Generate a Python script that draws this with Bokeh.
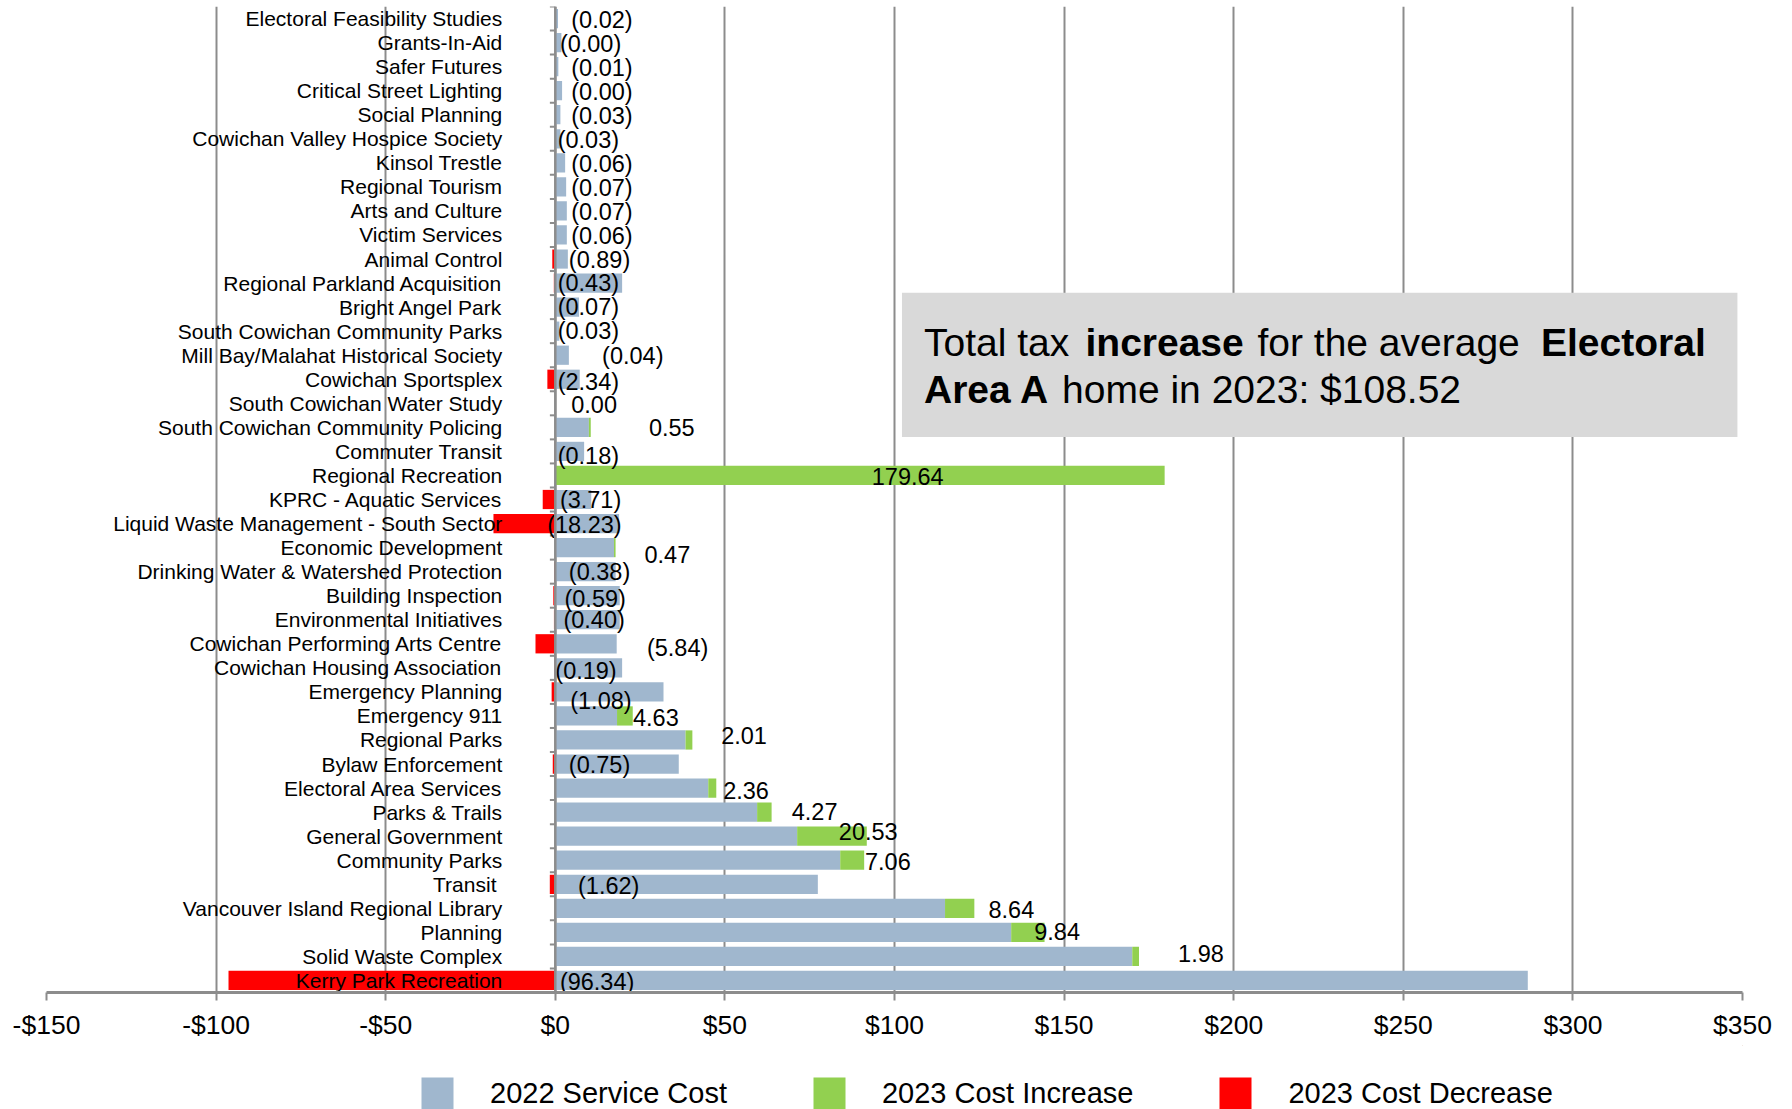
from bokeh.plotting import figure
from bokeh.layouts import column
from bokeh.models import (Range1d, FixedTicker, CustomJSTickFormatter, Span, BoxAnnotation,
                          Label, Legend, LegendItem, ColumnDataSource)
from bokeh.core.properties import value
from bokeh.embed import file_html
from bokeh.resources import INLINE

CATEGORIES = [
    "Electoral Feasibility Studies", "Grants-In-Aid", "Safer Futures", "Critical Street Lighting",
    "Social Planning", "Cowichan Valley Hospice Society", "Kinsol Trestle", "Regional Tourism",
    "Arts and Culture", "Victim Services", "Animal Control", "Regional Parkland Acquisition",
    "Bright Angel Park", "South Cowichan Community Parks", "Mill Bay/Malahat Historical Society",
    "Cowichan Sportsplex", "South Cowichan Water Study", "South Cowichan Community Policing",
    "Commuter Transit", "Regional Recreation", "KPRC - Aquatic Services",
    "Liquid Waste Management - South Sector", "Economic Development",
    "Drinking Water & Watershed Protection", "Building Inspection", "Environmental Initiatives",
    "Cowichan Performing Arts Centre", "Cowichan Housing Association", "Emergency Planning",
    "Emergency 911", "Regional Parks", "Bylaw Enforcement", "Electoral Area Services",
    "Parks & Trails", "General Government", "Community Parks", "Transit ",
    "Vancouver Island Regional Library", "Planning", "Solid Waste Complex", "Kerry Park Recreation",
]

COST_2022 = [
    0.8, 1.8, 0.9, 2.0, 1.5, 1.5, 2.9, 3.2, 3.4, 3.4, 3.7, 19.7, 7.0, 1.2, 4.0, 7.2, 0.0, 9.9,
    8.5, 0.0, 10.6, 18.8, 17.3, 17.8, 19.0, 19.0, 18.1, 19.7, 31.9, 18.2, 38.4, 36.4, 45.1,
    59.5, 71.3, 84.0, 77.4, 114.9, 134.4, 170.1, 286.7,
]

CHANGE_2023 = [
    -0.02, -0.003, -0.01, -0.003, -0.03, -0.03, -0.06, -0.07, -0.07, -0.06, -0.89, -0.43, -0.07,
    -0.03, -0.04, -2.34, 0.00, 0.55, -0.18, 179.64, -3.71, -18.23, 0.47, -0.38, -0.59, -0.40,
    -5.84, -0.19, -1.08, 4.63, 2.01, -0.75, 2.36, 4.27, 20.53, 7.06, -1.62, 8.64, 9.84, 1.98,
    -96.34,
]

X_TICKS = [-150, -100, -50, 0, 50, 100, 150, 200, 250, 300, 350]
SERIES_NAMES = ["2022 Service Cost", "2023 Cost Increase", "2023 Cost Decrease"]

# label placement (layout only): left edge of each value label in $, downward nudge in px
LABEL_X = [4.7, 1.35, 4.7, 4.7, 4.7, 0.7, 4.7, 4.7, 4.7, 4.7, 4.0, 0.7, 0.7, 0.7, 13.8, 0.7, 4.7,
           27.6, 0.7, 93.3, 1.35, -2.4, 26.3, 4.0, 2.7, 2.4, 27.0, 0.0, 4.4, 22.9, 48.9, 4.0, 49.5,
           69.7, 83.6, 91.3, 6.7, 127.7, 141.2, 183.6, 1.35]
LABEL_DY = [1, 1, 1, 1, 1, 1, 1, 1, 1, 1, 1, 0, 0, 0, 1, 3, 1, 0, 5, 1, 0, 1, 7, 0, 3, 0, 4, 3, 9,
            2, -4, 1, 2, -1, -5, 1, 2, 1, -1, -3, 2]

BLUE = "#A0B7CE"
GREEN = "#92D050"
RED = "#FF0000"
GRID = "#8C8C8C"
FONT = "Liberation Sans"

n = len(CATEGORIES)
ys = [n - i - 0.5 for i in range(n)]
inc_left = COST_2022
inc_right = [c + max(d, 0) for c, d in zip(COST_2022, CHANGE_2023)]
dec_left = [min(d, 0) for d in CHANGE_2023]
labels = [f"({abs(d):.2f})" if d < 0 else f"{d:.2f}" for d in CHANGE_2023]

src = ColumnDataSource(dict(
    y=ys, cat=CATEGORIES, cost=COST_2022, inc_left=inc_left, inc_right=inc_right,
    dec_left=dec_left, label=labels, lx=LABEL_X, ldy=LABEL_DY,
))

W = 1784
p = figure(width=W, height=1045, x_range=Range1d(-150, 350), y_range=Range1d(0, n),
           output_backend="svg", toolbar_location=None, y_axis_location=None,
           min_border_left=46, min_border_right=42, min_border_top=6, min_border_bottom=53)
p.outline_line_color = None
p.background_fill_color = "white"
p.ygrid.grid_line_color = None
p.xgrid.grid_line_color = GRID
p.xgrid.grid_line_width = 2
p.xgrid.ticker = FixedTicker(ticks=X_TICKS)

ax = p.xaxis[0]
ax.ticker = FixedTicker(ticks=X_TICKS)
ax.formatter = CustomJSTickFormatter(code="return (tick < 0 ? '-' : '') + '$' + Math.abs(tick);")
ax.axis_line_color = GRID
ax.axis_line_width = 3
ax.major_tick_line_color = GRID
ax.major_tick_line_width = 2
ax.major_tick_out = 8
ax.major_tick_in = 0
ax.minor_tick_line_color = None
ax.major_label_text_font = FONT
ax.major_label_text_font_size = "26.5px"
ax.major_label_text_color = "black"
ax.major_label_standoff = 9

h = 0.8
p.hbar(y="y", left=0, right="cost", height=h, source=src, fill_color=BLUE, line_color=None)
p.hbar(y="y", left="inc_left", right="inc_right", height=h, source=src,
       fill_color=GREEN, line_color=None)
p.hbar(y="y", left="dec_left", right=0, height=h, source=src, fill_color=RED, line_color=None)

# category axis at $0
p.add_layout(Span(location=0, dimension="height", line_color=GRID, line_width=2.5))
bounds = list(range(n + 1))
p.segment(x0=[-1.6] * len(bounds), x1=[0] * len(bounds), y0=bounds, y1=bounds,
          line_color=GRID, line_width=2)

p.text(x=0, y="y", text="cat", source=src, x_offset=-53, text_align="right",
       text_baseline="middle", text_font=value(FONT), text_font_size="21px", text_color="black")
p.text(x="lx", y="y", text="label", source=src, y_offset="ldy", text_align="left",
       text_baseline="middle", text_font=value(FONT), text_font_size="23.5px", text_color="black")

# summary box
p.add_layout(BoxAnnotation(left=102.2, right=348.5, bottom=23.1, top=29.1,
                           fill_color="#D9D9D9", fill_alpha=1, line_color=None, level="overlay"))
segments = [
    ("Total tax", "normal", 108.7, 27.04),
    ("increase", "bold", 156.3, 27.04),
    ("for the average", "normal", 207.0, 27.04),
    ("Electoral", "bold", 290.6, 27.04),
    ("Area A", "bold", 108.7, 25.08),
    ("home in 2023: $108.52", "normal", 149.4, 25.08),
]
for txt, style, x, y in segments:
    p.add_layout(Label(x=x, y=y, text=txt, text_font=FONT, text_font_size="39px",
                       text_font_style=style, text_baseline="middle", text_align="left",
                       text_color="black", level="overlay"))

# legend strip below the axis
lg = figure(width=W, height=64, x_range=Range1d(0, 1), y_range=Range1d(0, 1),
            output_backend="svg", toolbar_location=None, x_axis_location=None,
            y_axis_location=None, min_border=0)
lg.outline_line_color = None
lg.grid.visible = False
items = []
for name, col in zip(SERIES_NAMES, [BLUE, GREEN, RED]):
    r = lg.hbar(y=[50], left=[50], right=[51], height=1, fill_color=col, line_color=None)
    items.append(LegendItem(label=name, renderers=[r]))
legend = Legend(items=items, orientation="horizontal", location=(371, -4), glyph_width=40,
                glyph_height=40, label_standoff=33, spacing=82, padding=0, margin=0,
                border_line_color=None, background_fill_alpha=0, label_text_font=FONT,
                label_text_font_size="29px", label_text_color="black",
                label_text_baseline="middle", label_height=40)
lg.add_layout(legend)

open("out.html", "w").write(file_html(column(p, lg, spacing=0), INLINE))
